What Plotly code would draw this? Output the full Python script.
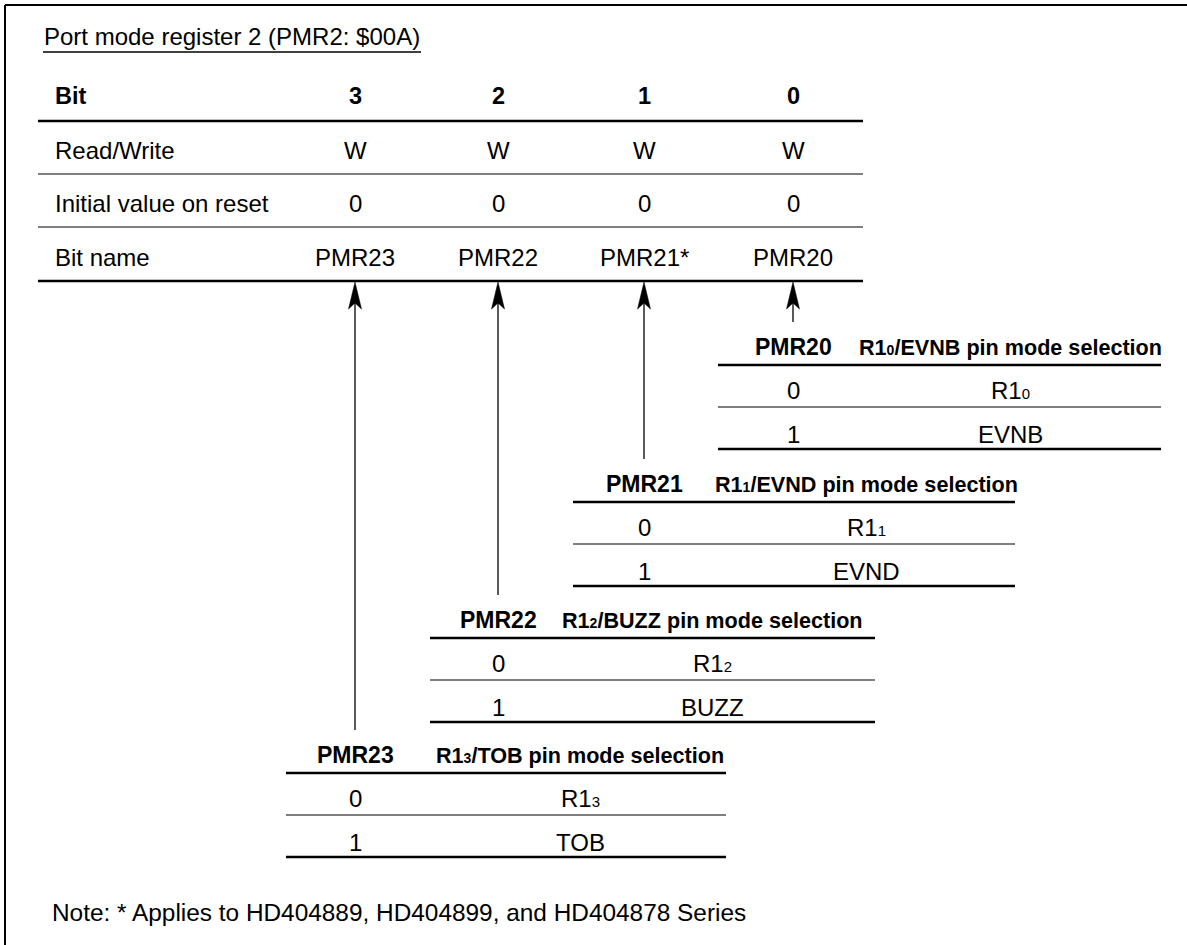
import plotly.graph_objects as go

# ---------------- data ----------------
title_text = "Port mode register 2 (PMR2: $00A)"
row_labels = ["Bit", "Read/Write", "Initial value on reset", "Bit name"]
bit_numbers = ["3", "2", "1", "0"]
read_write = ["W", "W", "W", "W"]
initial_values = ["0", "0", "0", "0"]
bit_names = ["PMR23", "PMR22", "PMR21*", "PMR20"]

sel_registers = ["PMR23", "PMR22", "PMR21", "PMR20"]
pin_index = ["3", "2", "1", "0"]
sel_alt_functions = ["TOB", "BUZZ", "EVND", "EVNB"]
sel_values = ["0", "1"]
note_text = "Note: * Applies to HD404889, HD404899, and HD404878 Series"

# ---------------- layout (pixel positions) ----------------
W, H = 1187, 945
FONT = "Liberation Sans, Arial, sans-serif"
BLACK = "#000000"
BODY = 24
col_x = [355, 498, 644, 793]
main_left, main_right = 38, 863
label_x = 53
row_y = [96, 150, 203, 257]
main_lines = [(121, 2.5), (174, 1.2), (227, 1.2), (281, 2.5)]
sub_top = [773, 638, 502, 365]
sub_left = [286, 430, 573, 718]
sub_right = [726, 875, 1015, 1161]
sub_col2 = [580, 712, 866, 1010]
arrow_tip = 282


def small(s, px):
    return f'<span style="font-size:{px}px">{s}</span>'


sel_titles = [f"R1{small(p, 14)}/{a} pin mode selection" for p, a in zip(pin_index, sel_alt_functions)]
sel_port_pins = [f"R1{small(p, 15)}" for p in pin_index]

fig = go.Figure()
shapes = []
ann = []


def text(x, y, s, size=BODY, bold=False, anchor="center"):
    ann.append(dict(x=x, y=y, xref="x", yref="y", text=f"<b>{s}</b>" if bold else s,
                    showarrow=False, xanchor=anchor, yanchor="middle",
                    font=dict(family=FONT, size=size, color=BLACK)))


def hline(y, x0, x1, w):
    shapes.append(dict(type="line", xref="x", yref="y", x0=x0, x1=x1, y0=y, y1=y,
                       line=dict(color=BLACK, width=w)))


# frame (top and left edges)
hline(5, 5, W, 2)
shapes.append(dict(type="line", xref="x", yref="y", x0=5, x1=5, y0=5, y1=H,
                   line=dict(color=BLACK, width=2)))

# title with underline
text(42, 36, title_text, size=24, anchor="left")
hline(52, 43, 421, 1.3)

# main register table
for lab, y in zip(row_labels, row_y):
    text(label_x, y, lab, size=23.5 if lab == "Bit" else BODY, bold=(lab == "Bit"), anchor="left")
for i, cx in enumerate(col_x):
    text(cx, row_y[0], bit_numbers[i], size=23.5, bold=True)
    text(cx, row_y[1], read_write[i])
    text(cx, row_y[2], initial_values[i])
    text(cx, row_y[3], bit_names[i])
for y, w in main_lines:
    hline(y, main_left, main_right, w)

# selection tables and arrows
for i, cx in enumerate(col_x):
    top = sub_top[i]
    L, R, c2 = sub_left[i], sub_right[i], sub_col2[i]
    text(cx, top - 18, sel_registers[i], size=23, bold=True)
    text(c2, top - 18, sel_titles[i], size=21.6, bold=True)
    hline(top, L, R, 2.5)
    text(cx, top + 25, sel_values[0])
    text(c2, top + 25, sel_port_pins[i])
    hline(top + 42, L, R, 1.2)
    text(cx, top + 69, sel_values[1])
    text(c2, top + 69, sel_alt_functions[i])
    hline(top + 84, L, R, 2.5)

    # arrow from table header up to the bit name
    tail = top - 43
    shapes.append(dict(type="line", xref="x", yref="y", x0=cx, x1=cx, y0=tail,
                       y1=arrow_tip + 20, line=dict(color=BLACK, width=1.3)))
    t = arrow_tip
    shapes.append(dict(type="path", xref="x", yref="y",
                       path=f"M {cx},{t} L {cx-6.5},{t+27} L {cx},{t+21} L {cx+6.5},{t+27} Z",
                       fillcolor=BLACK, line=dict(color=BLACK, width=0.5)))

# note
text(50, 912, note_text, size=24.4, anchor="left")

fig.update_layout(
    width=W, height=H,
    margin=dict(l=0, r=0, t=0, b=0),
    paper_bgcolor="white", plot_bgcolor="white",
    xaxis=dict(range=[0, W], visible=False, fixedrange=True),
    yaxis=dict(range=[H, 0], visible=False, fixedrange=True),
    shapes=shapes, annotations=ann, showlegend=False,
)
fig.write_html("out.html", config={"displayModeBar": False},
               post_script="document.body.style.margin='0';document.body.style.overflow='hidden';")
